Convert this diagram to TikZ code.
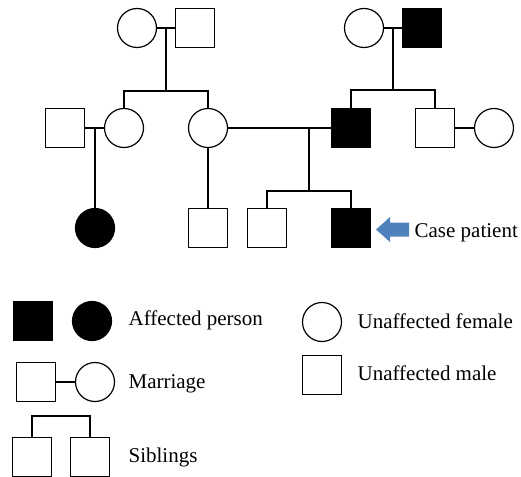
\documentclass[tikz,border=0pt]{standalone}
\usepackage{fontspec}
\setmainfont{Liberation Serif}

\begin{document}
\begin{tikzpicture}[x=1pt, y=-1pt, line width=1.2pt,
    male/.style={draw, rectangle, minimum size=39pt, inner sep=0pt},
    female/.style={draw, circle, minimum size=39pt, inner sep=0pt},
    affected/.style={fill=black},
    keytext/.style={anchor=base west, inner sep=0pt, font=\fontsize{21}{24}\selectfont}]
    \definecolor{arrowblue}{HTML}{4F81BD}
    \useasboundingbox (0,0) rectangle (521,476);

    % first generation
    \node [female] (gm1) at (137,28) {};
    \node [male] (gf1) at (195,28) {};
    \node [female] (gm2) at (364,28) {};
    \node [male, affected] (gf2) at (422,28) {};

    % second generation
    \node [male] (h1) at (65,128) {};
    \node [female] (d1) at (124,128) {};
    \node [female] (d2) at (208,128) {};
    \node [male, affected] (f) at (351,128) {};
    \node [male] (u) at (435,128) {};
    \node [female] (w) at (494,128) {};

    % third generation
    \node [female, affected] (c1) at (95,228) {};
    \node [male] (s1) at (208,228) {};
    \node [male] (s2) at (267,228) {};
    \node [male, affected] (p) at (351,228) {};

    \coordinate (b1) at (166,91);
    \coordinate (b2) at (393,90);
    \coordinate (b3) at (309,191);
    \coordinate (m3) at (95,128);

    \draw (gm1) -- (gf1);
    \draw (b1 |- gm1) -- (b1);
    \draw (d1) |- (b1) -| (d2);
    \draw (gm2) -- (gf2);
    \draw (b2 |- gm2) -- (b2);
    \draw (f) |- (b2) -| (u);
    \draw (h1) -- (d1);
    \draw (m3) -- (c1);
    \draw (d2) -- (f);
    \draw (b3 |- d2) -- (b3);
    \draw (s2) |- (b3) -| (p);
    \draw (d2) -- (s1);
    \draw (u) -- (w);

    % case patient
    \fill [arrowblue] (409,222.5) -- (390,222.5) -- (390,217) -- (376,229.5)
        -- (390,242) -- (390,236.5) -- (409,236.5) -- cycle;
    \node [keytext] (case) at (414,237) {Case patient};

    % key
    \node [male, affected] (kam) at (33,321) {};
    \node [female, affected] (kaf) at (92,321) {};
    \node [keytext] (kat) at (128,325) {Affected person};
    \node [female] (kuf) at (322,322) {};
    \node [keytext] (kuft) at (357,328) {Unaffected female};
    \node [male] (kum) at (322,375) {};
    \node [keytext] (kumt) at (357,380) {Unaffected male};
    \node [male] (kmm) at (36,382) {};
    \node [female] (kmf) at (95,382) {};
    \draw (kmm) -- (kmf);
    \node [keytext] (kmt) at (128,388) {Marriage};
    \node [male] (ks1) at (32,457) {};
    \node [male] (ks2) at (90,457) {};
    \coordinate (ksb) at (61,416);
    \draw (ks1) |- (ksb) -| (ks2);
    \node [keytext] (kst) at (128,462) {Siblings};
\end{tikzpicture}
\end{document}
